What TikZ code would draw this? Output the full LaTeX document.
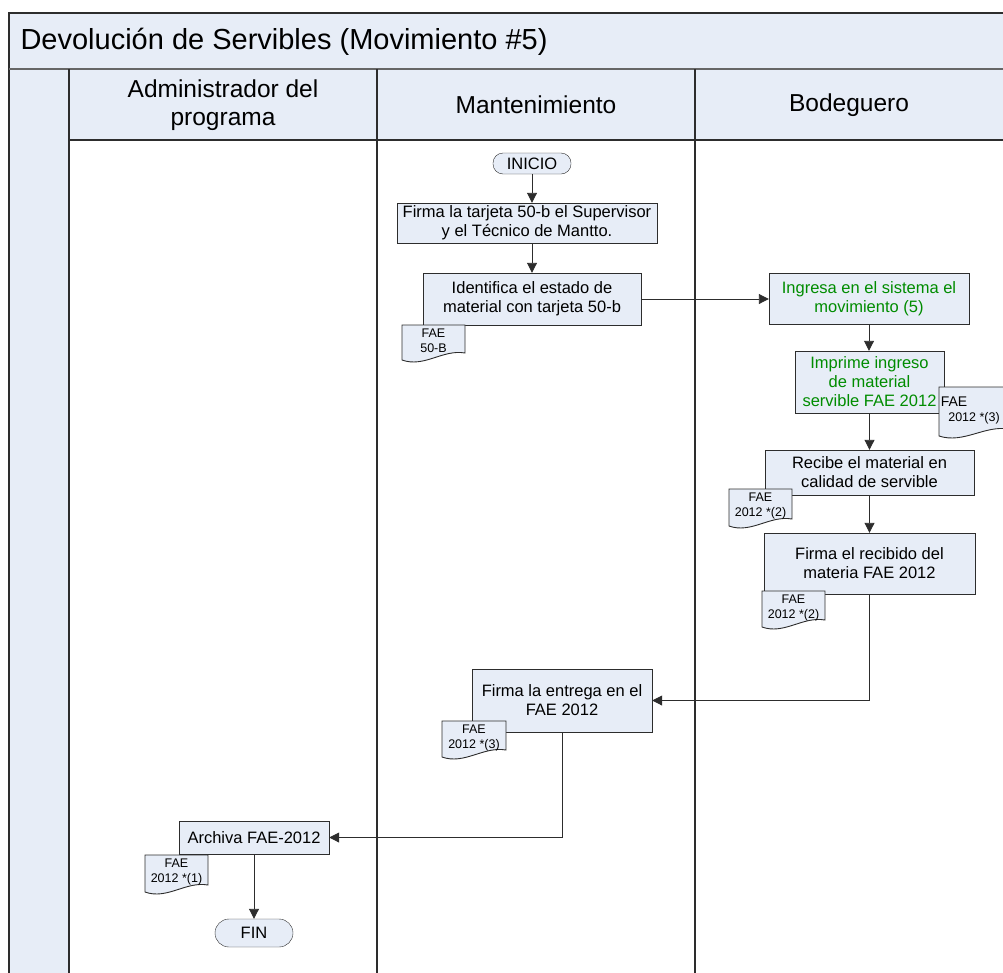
\documentclass[tikz,border=0pt]{standalone}
\usepackage{fontspec}
\setmainfont{Liberation Sans}
\usetikzlibrary{arrows.meta}

\definecolor{paleblue}{RGB}{231,237,247}
\definecolor{okgreen}{RGB}{0,140,0}
\definecolor{edgegray}{RGB}{45,45,45}

\tikzset{
  box/.style={draw=edgegray, fill=paleblue, align=center, inner sep=2pt,
    font=\fontsize{16.5}{19}\selectfont},
  term/.style={box, rounded corners=10pt, minimum width=78pt},
  docline/.style={draw=edgegray, fill=paleblue, line width=0.9pt},
  doctext/.style={align=center, inner sep=0pt, font=\fontsize{12.5}{15}\selectfont},
  flow/.style={edgegray, line width=0.9pt, -{Triangle[length=10pt,width=10pt]}},
  lane/.style={edgegray, line width=1.3pt}
}

% document symbol: name, left, top, width, height, text
\newcommand{\fdoc}[6]{%
  \path[docline] (#2,#3) -- (#2+#4,#3) -- (#2+#4,#3+#5-10)
    .. controls (#2+0.65*#4,#3+#5-14) and (#2+0.35*#4,#3+#5+5) .. (#2,#3+#5-3) -- cycle;
  \node[doctext] (#1) at (#2+0.5*#4,#3+0.5*#5-3) {#6};
}

\begin{document}
\begin{tikzpicture}[x=1pt, y=-1pt]
    \useasboundingbox (0,0) rectangle (1003,972);

    % pool and lanes
    \fill[paleblue] (9,13) rectangle (1010,69);
    \fill[paleblue] (69,69) rectangle (1010,140);
    \fill[paleblue] (9,69) rectangle (69,980);
    \draw[lane] (1010,13) -- (9,13) -- (9,980);
    \draw[line width=2pt, gray!80!black] (9,69) -- (1010,69);
    \draw[lane] (69,140) -- (1010,140);
    \draw[lane] (69,69) -- (69,980);
    \draw[lane] (377,69) -- (377,980);
    \draw[lane] (695,69) -- (695,980);

    \node[anchor=west, font=\fontsize{29}{33}\selectfont] (title) at (17,42) {Devolución de Servibles (Movimiento \#5)};
    \node[align=center, font=\fontsize{24.5}{28}\selectfont] (hadm) at (223,105) {Administrador del\\programa};
    \node[font=\fontsize{24.5}{28}\selectfont] (hman) at (536,105) {Mantenimiento};
    \node[font=\fontsize{24.5}{28}\selectfont] (hbod) at (849,105) {Bodeguero};

    % Mantenimiento
    \node[term, minimum height=21pt] (inicio) at (532,163.5) {INICIO};
    \node[box, minimum width=260pt, minimum height=40pt] (firma1) at (527,223) {Firma la tarjeta 50-b el Supervisor\\y el Técnico de Mantto.};
    \node[box, minimum width=218pt, minimum height=52pt] (ident) at (532,299) {Identifica el estado de\\material con tarjeta 50-b};
    \fdoc{doc50}{402}{325}{63}{38}{FAE\\50-B}

    % Bodeguero
    \node[box, minimum width=200pt, minimum height=51pt, text=okgreen] (ingresa) at (869,298.5) {Ingresa en el sistema el\\movimiento (5)};
    \node[box, minimum width=149pt, minimum height=62pt, text=okgreen] (imprime) at (869.5,382) {Imprime ingreso\\de material\\servible FAE 2012};
    \fdoc{docimp}{939}{387}{70}{52}{\fontsize{14}{17}\selectfont FAE\hspace*{40pt}\\2012 *(3)}
    \node[box, minimum width=209pt, minimum height=45pt] (recibe) at (869.5,472.5) {Recibe el material en\\calidad de servible};
    \fdoc{docrec}{729}{489}{63}{40}{FAE\\2012 *(2)}
    \node[box, minimum width=211pt, minimum height=61pt] (firma2) at (869.5,563.5) {Firma el recibido del\\materia FAE 2012};
    \fdoc{docfir}{762}{591}{63}{39}{FAE\\2012 *(2)}

    % back to Mantenimiento
    \node[box, minimum width=180pt, minimum height=63pt] (entrega) at (562,700.5) {Firma la entrega en el\\FAE 2012};
    \fdoc{docent}{442}{721}{64}{39}{FAE\\2012 *(3)}

    % Administrador
    \node[box, minimum width=150pt, minimum height=33pt] (archiva) at (254,837.5) {Archiva FAE-2012};
    \fdoc{docarc}{145}{855}{63}{40}{FAE\\2012 *(1)}
    \node[term, minimum height=28pt, rounded corners=14pt] (fin) at (254,933) {FIN};

    % connectors
    \draw[flow] (inicio.south) -- (inicio.south |- firma1.north);
    \draw[flow] (firma1.south -| inicio.south) -- (ident.north -| inicio.south);
    \draw[flow] (ident.east) -- (ident.east -| ingresa.west);
    \draw[flow] (ingresa.south) -- (imprime.north -| ingresa.south);
    \draw[flow] (imprime.south) -- (recibe.north);
    \draw[flow] (recibe.south) -- (firma2.north);
    \draw[flow] (firma2.south) |- (entrega.east);
    \draw[flow] (entrega.south) |- (archiva.east);
    \draw[flow] (archiva.south) -- (fin.north);
\end{tikzpicture}
\end{document}
